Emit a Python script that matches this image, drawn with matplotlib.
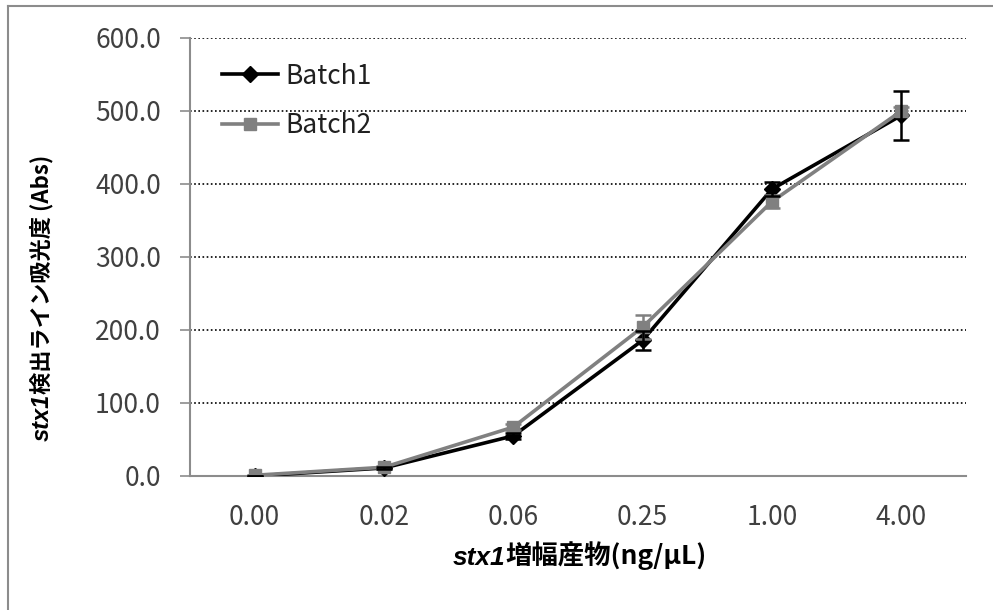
import matplotlib
matplotlib.use("Agg")
import matplotlib.pyplot as plt
from matplotlib.lines import Line2D

# concentration categories (ng/uL) and absorbance of the stx1 detection line
concentrations = ["0.00", "0.02", "0.06", "0.25", "1.00", "4.00"]
batch1_mean = [0.0, 11.0, 55.0, 186.0, 393.0, 494.0]
batch1_err = [0.0, 2.0, 4.0, 13.0, 10.0, 34.0]
batch2_mean = [1.0, 12.0, 67.0, 204.0, 376.0, 500.0]
batch2_err = [0.0, 2.0, 4.0, 16.0, 9.0, 6.0]
y_ticks = [0, 100, 200, 300, 400, 500, 600]

JP = "Noto Sans CJK JP"
LATIN_IT = "Liberation Sans"
TICK_COLOR = "#404040"
FS = 19
YLABEL_FS = 16

fig = plt.figure(figsize=(9.93, 6.10), dpi=100)
ax = fig.add_axes([190 / 993, 1 - 476 / 610, (966 - 190) / 993, (476 - 38) / 610])

x = list(range(len(concentrations)))

ax.plot(x, batch1_mean, color="black", lw=2.6, marker="D", ms=8,
        label="Batch1", zorder=3)
ax.plot(x, batch2_mean, color="#808080", lw=2.6, marker="s", ms=9,
        label="Batch2", zorder=4)
ax.errorbar(x, batch2_mean, yerr=batch2_err, fmt="none", ecolor="#808080",
            elinewidth=1.8, capsize=6, capthick=1.8, zorder=5)
ax.errorbar(x, batch1_mean, yerr=batch1_err, fmt="none", ecolor="black",
            elinewidth=1.8, capsize=6, capthick=1.8, zorder=6)

ax.set_xlim(-0.5, len(concentrations) - 0.5)
ax.set_ylim(0, 600)
ax.set_xticks(x)
ax.set_xticklabels(concentrations)
ax.set_yticks(y_ticks)
ax.set_yticklabels([f"{v:.1f}" for v in y_ticks])

for lab in ax.get_xticklabels() + ax.get_yticklabels():
    lab.set_family(JP)
    lab.set_fontsize(FS)
    lab.set_color(TICK_COLOR)

ax.tick_params(axis="x", length=0, pad=20)
ax.tick_params(axis="y", length=7, width=1.2, color="#8c8c8c", pad=14)

# dotted gridlines, plain grey axis lines
ax.grid(False)
for v in y_ticks[1:]:
    ax.axhline(v, color="black", lw=1.2, ls=(0, (1, 1.5)), zorder=1)
for side in ("top", "right"):
    ax.spines[side].set_visible(False)
for side in ("left", "bottom"):
    ax.spines[side].set_color("#8c8c8c")
    ax.spines[side].set_linewidth(1.5)

leg = ax.legend(loc="upper left", bbox_to_anchor=(0.028, 0.968), frameon=False,
                handlelength=2.1, handletextpad=0.3, labelspacing=0.85,
                borderaxespad=0, prop={"family": JP, "size": FS})
for t in leg.get_texts():
    t.set_color("#202020")

# x axis label: italic gene name followed by upright Japanese text
xl1 = fig.text(0.0, 0.0, "stx1", family=LATIN_IT, style="italic",
               weight="bold", fontsize=FS, ha="left", va="baseline")
xl2 = ax.annotate("増幅産物(ng/μL)", xy=(1, 0), xycoords=xl1,
                  ha="left", va="bottom", family=JP, weight="bold",
                  fontsize=FS, annotation_clip=False)

# y axis label, rotated
yl1 = fig.text(0.0, 0.0, "stx1", family=LATIN_IT, style="italic",
               weight="bold", fontsize=YLABEL_FS + 1, rotation=90,
               ha="center", va="bottom")
yl2 = ax.annotate("検出ライン吸光度 (Abs)", xy=(0.5, 1), xycoords=yl1,
                  ha="center", va="bottom", rotation=90, family=JP,
                  weight="bold", fontsize=YLABEL_FS, annotation_clip=False)

# place the composite labels once the text extents are known
fig.canvas.draw()
r = fig.canvas.get_renderer()
w_total = (xl1.get_window_extent(r).width + xl2.get_window_extent(r).width)
xl1.set_position((580 / 993 - w_total / 2 / 993, 1 - 565 / 610))
h_total = (yl1.get_window_extent(r).height + yl2.get_window_extent(r).height)
yl1.set_position((42 / 993, 1 - (298 + h_total / 2) / 610))

# chart area frame (left and top edges)
fig.add_artist(Line2D([8 / 993, 8 / 993], [0, 1 - 6 / 610],
                      transform=fig.transFigure, color="#8c8c8c", lw=1.5))
fig.add_artist(Line2D([8 / 993, 1], [1 - 6 / 610, 1 - 6 / 610],
                      transform=fig.transFigure, color="#8c8c8c", lw=1.5))

fig.savefig("out.png", dpi=100, facecolor="white")
